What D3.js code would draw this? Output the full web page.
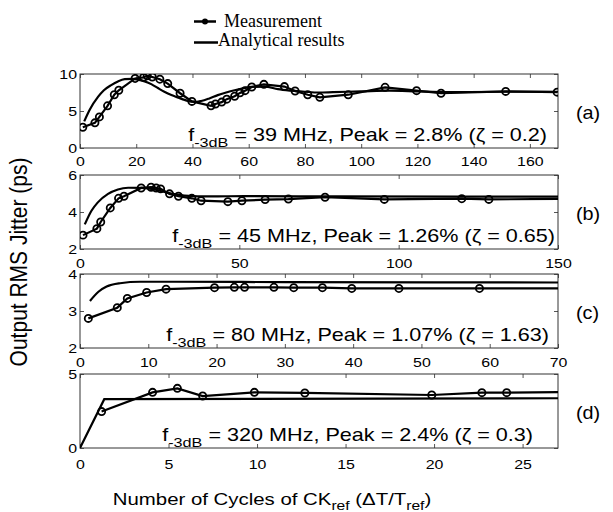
<!DOCTYPE html>
<html><head><meta charset="utf-8">
<script src="https://cdn.jsdelivr.net/npm/d3@7"></script>
<style>
body{margin:0;background:#fff;}
svg{display:block;}
text{font-family:"Liberation Sans",Arial,Helvetica,sans-serif;fill:#000;}
</style></head><body>
<svg id="c" width="613" height="512"></svg>
<script>
// ---- Data ----
// Panel (a)
const aMeasX = [1, 5.3, 6.9, 9.8, 12.2, 13.8, 19.6, 22.6, 23.9, 25.7, 28.4, 31.2, 35.6, 39.8, 46.6, 48.2, 50.4, 52.2, 55, 56.9, 58.7, 61.1, 65.4, 72.7, 76.5, 81, 85.3, 95.4, 108.5, 119.7, 128.4, 151.4, 169.7];
const aMeasY = [2.8, 3.4, 4.2, 5.7, 7.2, 7.8, 9.4, 9.55, 9.75, 9.6, 9.3, 8.7, 7.4, 6.3, 5.7, 5.95, 6.2, 6.6, 7.0, 7.45, 7.75, 8.25, 8.6, 8.3, 7.7, 7.2, 6.85, 7.2, 8.2, 7.75, 7.4, 7.65, 7.55];
const aAnaX = [1.5, 3.5, 6.4, 8.5, 11.1, 13.5, 15.9, 18.8, 21, 23, 25.5, 27.7, 30, 32.5, 35, 37.2, 39.6, 41.5, 43.1, 46, 49, 52, 55, 58, 60.9, 65.7, 70.4, 75, 80, 85, 90, 100, 110, 120, 130, 150, 170];
const aAnaY = [3.6, 5.2, 6.9, 7.8, 8.5, 9.0, 9.3, 9.35, 9.2, 9.0, 8.6, 8.1, 7.6, 7.15, 6.8, 6.5, 6.27, 6.25, 6.35, 6.7, 7.15, 7.5, 7.8, 8.05, 8.25, 8.3, 7.95, 7.75, 7.6, 7.5, 7.55, 7.65, 7.75, 7.65, 7.55, 7.6, 7.6];
// Panel (b)
const bMeasX = [0.94, 5.3, 6.5, 9.5, 12.1, 13.8, 19.2, 22.3, 23.9, 25.3, 28.1, 30.9, 35.1, 38, 46.4, 50.8, 58.1, 65.4, 76.9, 95.5, 119.8, 128.3, 160];
const bMeasY = [2.75, 3.1, 3.46, 4.22, 4.74, 4.85, 5.3, 5.34, 5.3, 5.25, 4.98, 4.85, 4.74, 4.61, 4.56, 4.61, 4.67, 4.7, 4.8, 4.68, 4.72, 4.68, 4.73];
const bAnaX = [1.5, 3.6, 5.6, 8.8, 11.9, 15.1, 19.2, 23.4, 27.6, 32.8, 41.2, 51.6, 80, 120, 150];
const bAnaY = [3.33, 4.07, 4.52, 4.98, 5.22, 5.31, 5.3, 5.22, 5.03, 4.89, 4.84, 4.86, 4.84, 4.83, 4.83];
// Panel (c)
const cMeasX = [1.22, 5.46, 6.93, 9.76, 12.6, 19.7, 22.6, 24.1, 28.4, 31.3, 35.5, 39.8, 46.7, 58.5, 80];
const cMeasY = [2.8, 3.09, 3.34, 3.5, 3.59, 3.63, 3.64, 3.64, 3.64, 3.63, 3.63, 3.61, 3.61, 3.61, 3.61];
const cAnaX = [1.46, 2.7, 3.9, 5.86, 8.8, 13.7, 30, 70];
const cAnaY = [3.27, 3.52, 3.66, 3.75, 3.79, 3.79, 3.78, 3.77];
// Panel (d)
const dMeasX = [1.22, 4.1, 5.5, 6.93, 9.85, 12.7, 19.87, 22.7, 24.1, 30];
const dMeasY = [2.46, 3.76, 4.03, 3.51, 3.76, 3.72, 3.58, 3.74, 3.74, 3.8];
const dAnaX = [0, 1.37, 27];
const dAnaY = [0, 3.3, 3.36];
// Tick labels
const aXTicks = [0, 20, 40, 60, 80, 100, 120, 140, 160];
const aYTicks = [0, 5, 10];
const bXTicks = [0, 50, 100, 150];
const bYTicks = [2, 4, 6];
const cXTicks = [0, 10, 20, 30, 40, 50, 60, 70];
const cYTicks = [2, 3, 4];
const dXTicks = [0, 5, 10, 15, 20, 25];
const dYTicks = [0, 5];
// Annotations
const fValues = ["39", "45", "80", "320"];
const peakValues = ["2.8%", "1.26%", "1.07%", "2.4%"];
const zetaValues = ["0.2", "0.65", "1.63", "0.3"];
const panelNames = ["(a)", "(b)", "(c)", "(d)"];

// ---- Layout ----
const svg = d3.select("#c");
const L = 80, R = 558, H = 74;
const SX = 1.18; // horizontal stretch of the lettering in the reference
const tops = [74, 175, 274, 374];
const tickLabelDrop = [18, 19, 19, 21];
const noteRight = [547, 555, 549, 533];
const panels = [
  {mx: aMeasX, my: aMeasY, ax: aAnaX, ay: aAnaY, xd: [0, 170], yd: [0, 10], xt: aXTicks, yt: aYTicks},
  {mx: bMeasX, my: bMeasY, ax: bAnaX, ay: bAnaY, xd: [0, 150], yd: [2, 6], xt: bXTicks, yt: bYTicks},
  {mx: cMeasX, my: cMeasY, ax: cAnaX, ay: cAnaY, xd: [0, 70], yd: [2, 4], xt: cXTicks, yt: cYTicks},
  {mx: dMeasX, my: dMeasY, ax: dAnaX, ay: dAnaY, xd: [0, 27], yd: [0, 5], xt: dXTicks, yt: dYTicks}
];

panels.forEach((p, i) => {
  const top = tops[i], bot = top + H;
  const x = d3.scaleLinear().domain(p.xd).range([L, R]);
  const y = d3.scaleLinear().domain(p.yd).range([bot, top]);
  const clipId = "clip" + i;
  svg.append("clipPath").attr("id", clipId).append("rect")
    .attr("x", L).attr("y", top).attr("width", R - L).attr("height", H);

  const styleAxis = g => {
    g.select(".domain").remove();
    g.selectAll(".tick line").attr("stroke", "#555").attr("stroke-width", 1);
    g.selectAll("text").style("font-size", "13.5px").attr("fill", "#000");
  };
  // bottom axis (inward ticks)
  const gb = svg.append("g").attr("transform", `translate(0,${bot})`)
    .call(d3.axisBottom(x).tickValues(p.xt).tickSize(-4).tickFormat(d3.format("d")))
    .call(styleAxis);
  gb.selectAll(".tick text").attr("y", null).attr("dy", null)
    .attr("transform", `translate(0,${tickLabelDrop[i]}) scale(${SX},1)`);
  svg.append("g").attr("transform", `translate(0,${top})`)
    .call(d3.axisTop(x).tickValues(p.xt).tickSize(-4).tickFormat(""))
    .call(styleAxis);
  const gl = svg.append("g").attr("transform", `translate(${L},0)`)
    .call(d3.axisLeft(y).tickValues(p.yt).tickSize(-4).tickFormat(d3.format("d")))
    .call(styleAxis);
  gl.selectAll(".tick text").attr("x", null)
    .attr("transform", `translate(-3,0) scale(${SX},1)`);
  svg.append("g").attr("transform", `translate(${R},0)`)
    .call(d3.axisRight(y).tickValues(p.yt).tickSize(-4).tickFormat(""))
    .call(styleAxis);

  // frame
  svg.append("rect").attr("x", L).attr("y", top).attr("width", R - L).attr("height", H)
    .attr("fill", "none").attr("stroke", "#333").attr("stroke-width", 1);

  const g = svg.append("g").attr("clip-path", `url(#${clipId})`);
  const ana = p.ax.map((v, k) => [v, p.ay[k]]);
  const meas = p.mx.map((v, k) => [v, p.my[k]]);
  const anaLine = d3.line().curve(i === 3 ? d3.curveLinear : d3.curveMonotoneX)
    .x(d => x(d[0])).y(d => y(d[1]));
  const measLine = d3.line().x(d => x(d[0])).y(d => y(d[1]));
  g.append("path").attr("d", anaLine(ana))
    .attr("fill", "none").attr("stroke", "#000").attr("stroke-width", 2.2);
  g.append("path").attr("d", measLine(meas))
    .attr("fill", "none").attr("stroke", "#000").attr("stroke-width", 2.2);
  g.selectAll("circle.m").data(meas).join("circle").attr("class", "m")
    .attr("cx", d => x(d[0])).attr("cy", d => y(d[1])).attr("r", 3.6)
    .attr("fill", "none").attr("stroke", "#000").attr("stroke-width", 1.8);

  // annotation
  const t = svg.append("text")
    .attr("transform", `translate(${noteRight[i]},${bot - 7}) scale(${SX + 0.02},1)`)
    .attr("text-anchor", "end").style("font-size", "18px");
  t.append("tspan").text("f");
  t.append("tspan").attr("dy", 6).style("font-size", "13.5px").text("-3dB");
  t.append("tspan").attr("dy", -6).text(` = ${fValues[i]} MHz, Peak = ${peakValues[i]} (\u03B6 = ${zetaValues[i]})`);

  svg.append("text").attr("transform", `translate(576,${top + H / 2 + 8}) scale(1.1,1)`)
    .style("font-size", "18px").text(panelNames[i]);
});

// y-axis title
svg.append("text").attr("transform", "translate(27,262) scale(1.1,1) rotate(-90)")
  .attr("text-anchor", "middle").style("font-size", "21px").text("Output RMS Jitter (ps)");

// x-axis title
const xt = svg.append("text").attr("transform", `translate(272,505) scale(${SX + 0.02},1)`)
  .attr("text-anchor", "middle").style("font-size", "17px");
xt.append("tspan").text("Number of Cycles of CK");
xt.append("tspan").attr("dy", 5).style("font-size", "13px").text("ref");
xt.append("tspan").attr("dy", -5).text(" (\u0394T/T");
xt.append("tspan").attr("dy", 5).style("font-size", "13px").text("ref");
xt.append("tspan").attr("dy", -5).text(")");

// legend
const serif = "'Liberation Serif','Times New Roman',serif";
const lg = svg.append("g");
lg.append("line").attr("x1", 194).attr("x2", 216).attr("y1", 21.5).attr("y2", 21.5).attr("stroke", "#000").attr("stroke-width", 2.5);
lg.append("circle").attr("cx", 205).attr("cy", 21.5).attr("r", 3).attr("fill", "#000");
lg.append("text").attr("x", 224).attr("y", 27).style("font-family", serif).style("font-size", "18px").text("Measurement");
lg.append("line").attr("x1", 194).attr("x2", 218).attr("y1", 42.5).attr("y2", 42.5).attr("stroke", "#000").attr("stroke-width", 2.5);
lg.append("text").attr("x", 218).attr("y", 46).style("font-family", serif).style("font-size", "18px").text("Analytical results");
</script>
</body></html>
